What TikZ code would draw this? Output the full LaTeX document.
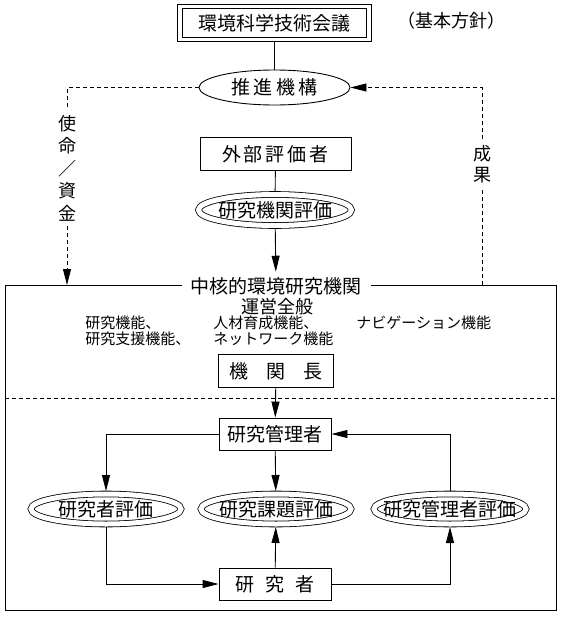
\documentclass[tikz,border=0pt]{standalone}
\usepackage{fontspec}
\setmainfont{Noto Sans CJK JP}
\usetikzlibrary{arrows.meta,shapes.geometric}
\tikzset{
  box/.style={draw, minimum width=112pt, minimum height=32pt, inner sep=0pt},
  evalnode/.style={draw, ellipse, double, double distance=5pt, line width=0.8pt,
    minimum width=150pt, minimum height=30pt, inner sep=0pt, outer sep=3pt},
  flow/.style={-{Triangle[length=16pt,width=8pt]}},
  dots/.style={dash pattern=on 4pt off 3pt},
  small/.style={font=\fontsize{15}{16}\selectfont, anchor=west, inner sep=0pt}
}
\begin{document}
\begin{tikzpicture}[x=1pt, y=-1pt, line width=0.9pt, font=\fontsize{19}{22}\selectfont]
\useasboundingbox (0,0) rectangle (565,621);
% frame of the institute
\draw (5,285) rectangle (556,610);
\draw[dots] (5,398) -- (556,398);
\coordinate (mission-in) at (67,285);
\coordinate (outcome-out) at (482,285);
% upper part
\node[draw, double, double distance=3.5pt, line width=0.8pt, minimum width=189pt,
  minimum height=33pt, outer sep=2.5pt] (council) at (274.5,23) {環境科学技術会議};
\node[font=\fontsize{18}{20}\selectfont] (policy) at (451,21) {（基本方針）};
\node[draw, ellipse, minimum width=151pt, minimum height=35pt, inner sep=0pt,
  label=center:{推\,進\,機\,構}] (promo) at (274.5,87.5) {};
\node[align=center, inner ysep=5pt, font=\fontsize{18}{22.5}\selectfont] (mission) at (67,168) {使\\命\\／\\資\\金};
\node[align=center, inner ysep=6pt, font=\fontsize{18}{21}\selectfont] (outcome) at (482,164) {成\\果};
\node[box, minimum width=151pt, minimum height=33pt] (extern) at (275.5,154)
  {外\hspace{3pt}部\hspace{3pt}評\hspace{3pt}価\hspace{3pt}者};
\node[evalnode, minimum width=153pt, minimum height=31pt, label=center:{研究機関評価}] (insteval) at (275,210) {};
% inside the institute
\node[fill=white, inner xsep=9pt, inner ysep=5pt] (core) at (276,286) {中核的環境研究機関};
\node[font=\fontsize{18}{20}\selectfont] (manage) at (277,306.5) {運営全般};
\node[small] (research) at (85,322.5) {研究機能、};
\node[small] (support) at (85,338.5) {研究支援機能、};
\node[small] (training) at (213,322.5) {人材育成機能、};
\node[small] (network) at (213,338.5) {ネットワーク機能};
\node[small] (navi) at (356,322.5) {ナビゲーション機能};
\node[box, minimum width=115pt, minimum height=33pt] (head) at (276,371)
  {機\hspace{18pt}関\hspace{18pt}長};
\node[box] (manager) at (275,434) {研究管理者};
\node[evalnode, label=center:{研究者評価}] (reseval) at (106,509) {};
\node[evalnode, label=center:{研究課題評価}] (topiceval) at (276,509) {};
\node[evalnode, minimum width=152pt, label=center:{研究管理者評価}] (mgreval) at (450,509) {};
\node[box] (researcher) at (275,584) {研\hspace{11pt}究\hspace{11pt}者};
% connectors
\draw (council) -- (promo);
\draw[dots] (promo.west) -| (mission.north);
\draw[dots, flow] (mission.south) -- (mission-in);
\draw[dots] (outcome-out) -- (outcome.south);
\draw[dots, flow] (outcome.north) |- (promo.east);
\draw (extern) -- (insteval);
\draw[flow] (insteval) -- (core);
\draw[flow] (head) -- (manager);
\draw[flow] (manager.west) -| (reseval.north);
\draw[flow] (manager) -- (topiceval);
\draw[flow] (mgreval.north) |- (manager.east);
\draw[flow] (reseval.south) |- (researcher.west);
\draw[flow] (researcher) -- (topiceval);
\draw[flow] (researcher.east) -| (mgreval.south);
\end{tikzpicture}
\end{document}
